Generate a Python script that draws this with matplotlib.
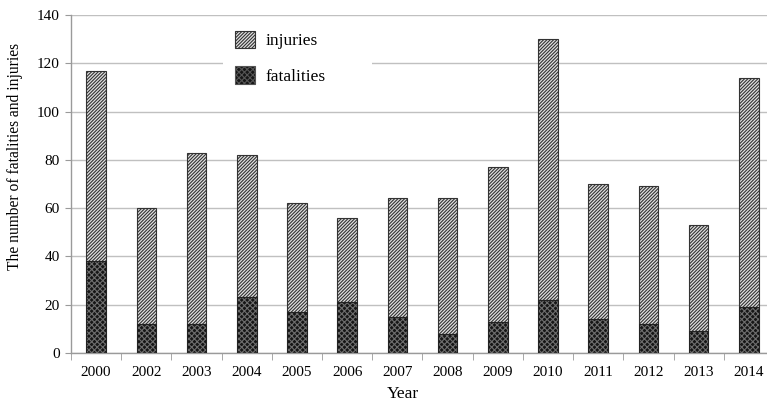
import numpy as np
import matplotlib
matplotlib.use("Agg")
import matplotlib.pyplot as plt
from matplotlib.patches import Patch, Rectangle

# data
years = ['2000', '2002', '2003', '2004', '2005', '2006', '2007',
         '2008', '2009', '2010', '2011', '2012', '2013', '2014']
fatalities = [38, 12, 12, 23, 17, 21, 15, 8, 13, 22, 14, 12, 9, 19]
injuries = [79, 48, 71, 59, 45, 35, 49, 56, 64, 108, 56, 57, 44, 95]

plt.rcParams['font.family'] = ['Liberation Serif', 'DejaVu Serif']
plt.rcParams['hatch.linewidth'] = 0.8

fig = plt.figure(figsize=(7.67, 4.07), dpi=100)
# axes run a bit past the right edge, like the cropped original
ax = fig.add_axes([71 / 767, 54 / 407, 703 / 767, 338 / 407])

x = np.arange(len(years))
w = 0.39

inj_hatch = '//////////'
fat_hatch = 'xxxxxx'

# fatalities: dark dotted fill, then a black outline on top
ax.bar(x, fatalities, w, color='#161616', edgecolor='#6e6e6e', hatch=fat_hatch,
       linewidth=0, zorder=2)
ax.bar(x, fatalities, w, fill=False, edgecolor='#222222', linewidth=0.8, zorder=3)
# injuries stacked on top: light gray with dense diagonals
ax.bar(x, injuries, w, bottom=fatalities, color='#e0e0e0', edgecolor='#333333',
       hatch=inj_hatch, linewidth=0.8, zorder=2)

ax.set_xlim(-0.5, len(years) - 0.5)
ax.set_ylim(0, 140)
ax.set_yticks(range(0, 141, 20))
ax.set_xticks(x)
ax.set_xticklabels(years)
ax.set_xticks(np.arange(-0.5, len(years), 1), minor=True)
ax.tick_params(axis='x', which='major', length=0, pad=9, labelsize=11)
ax.tick_params(axis='x', which='minor', length=5, color='#9a9a9a', direction='out')
ax.tick_params(axis='y', length=4, color='#9a9a9a', labelsize=11, pad=4)

ax.grid(axis='y', color='#c0c0c0', linewidth=1.0, zorder=0)
ax.set_axisbelow(True)
for s in ['top', 'right']:
    ax.spines[s].set_visible(False)
for s in ['left', 'bottom']:
    ax.spines[s].set_color('#9a9a9a')
    ax.spines[s].set_linewidth(1.0)

ax.set_xlabel('Year', fontsize=12.5)
ax.set_ylabel('The number of fatalities and injuries', fontsize=11.2)
# labels sit where the original has them (not centred on the axes)
ax.xaxis.set_label_coords((403 - 71) / 703, -(386 - 353) / 338)
ax.yaxis.set_label_coords(-(71 - 23) / 703, (353 - 157) / 338)

# white box behind the legend hides the 120 gridline
ax.add_patch(Rectangle((223 / 767, 1 - 98 / 407), 149 / 767, 76 / 407,
                       transform=fig.transFigure, facecolor='white',
                       edgecolor='none', zorder=1))

handles = [Patch(facecolor='#e0e0e0', edgecolor='#333333', hatch=inj_hatch, linewidth=0.8),
           Patch(facecolor='#161616', edgecolor='#555555', hatch=fat_hatch, linewidth=0.8)]
ax.legend(handles, ['injuries', 'fatalities'], loc='upper left',
          bbox_to_anchor=(221 / 767, 1 - 17 / 407), bbox_transform=fig.transFigure,
          frameon=False, fontsize=12.5, handlelength=1.15, handleheight=1.15,
          handletextpad=0.6, labelspacing=0.98, borderpad=0.3)

fig.savefig('out.png', dpi=100)
